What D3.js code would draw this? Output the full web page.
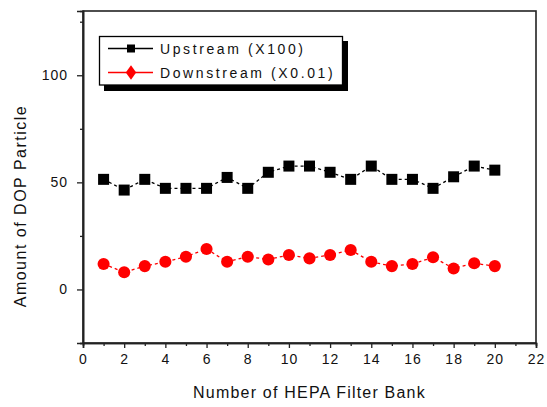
<!DOCTYPE html>
<html><head><meta charset="utf-8">
<script src="https://cdn.jsdelivr.net/npm/d3@7"></script>
<style>
body{margin:0;background:#fff;}
svg{display:block;font-family:"Liberation Sans",Arial,sans-serif;}
</style></head>
<body><svg id="c" width="547" height="407"></svg>
<script>
const banks = [1,2,3,4,5,6,7,8,9,10,11,12,13,14,15,16,17,18,19,20];
const upstream = [51.4,46.4,51.4,47.2,47.2,47.2,52.3,47.2,54.7,57.6,57.6,54.7,51.4,57.6,51.4,51.4,47.2,52.6,57.6,55.7];
const downstream = [11.9,8.0,10.9,12.9,15.3,18.9,12.9,15.3,14.0,16.1,14.5,16.1,18.4,12.9,10.9,11.9,15.0,9.8,12.2,10.9];
const xMajorTicks = [0,2,4,6,8,10,12,14,16,18,20,22];
const xMinorTicks = [1,3,5,7,9,11,13,15,17,19,21];
const yMajorTicks = [0,50,100];
const yMinorTicks = [-25,25,75,125];
const seriesNames = ["Upstream (X100)","Downstream (X0.01)"];

const svg = d3.select("#c");
const L=83, R=536, T=11, B=343;
const x = d3.scaleLinear().domain([0,22]).range([L,R]);
const y = d3.scaleLinear().domain([-25,130]).range([B,T]);

// frame
svg.append("rect").attr("x",L).attr("y",T).attr("width",R-L).attr("height",B-T)
  .attr("fill","none").attr("stroke","#222").attr("stroke-width",1.6);

// x axis
const gx = svg.append("g").attr("transform",`translate(0,${B})`);
gx.call(d3.axisBottom(x).tickValues(xMajorTicks).tickSize(5).tickFormat(d3.format("d")));
gx.append("g").call(d3.axisBottom(x).tickValues(xMinorTicks).tickSize(3).tickFormat(""));
gx.selectAll(".domain").attr("stroke","#222").attr("stroke-width",1.6);
gx.selectAll(".tick line").attr("stroke","#222").attr("stroke-width",1.3);
gx.selectAll("text").attr("font-size",14).attr("fill","#111").attr("dy","0.95em")
  .attr("font-family","Liberation Sans, Arial, sans-serif").style("letter-spacing","1px");

// y axis
const gy = svg.append("g").attr("transform",`translate(${L},0)`);
gy.call(d3.axisLeft(y).tickValues(yMajorTicks).tickSize(6).tickFormat(d3.format("d")));
gy.append("g").call(d3.axisLeft(y).tickValues(yMinorTicks).tickSize(3).tickFormat(""));
gy.selectAll(".domain").attr("stroke","#222").attr("stroke-width",1.6);
gy.selectAll(".tick line").attr("stroke","#222").attr("stroke-width",1.3);
gy.selectAll("text").attr("font-size",14).attr("fill","#111").attr("x",-15)
  .attr("font-family","Liberation Sans, Arial, sans-serif").style("letter-spacing","1px");

// axis titles
svg.append("text").attr("x",(L+R)/2).attr("y",398).attr("text-anchor","middle")
  .attr("font-size",16).attr("fill","#111").style("letter-spacing","1.2px")
  .text("Number of HEPA Filter Bank");
svg.append("text").attr("transform","translate(26,206) rotate(-90)").attr("text-anchor","middle")
  .attr("font-size",16).attr("fill","#111").style("letter-spacing","1.5px")
  .text("Amount of DOP Particle");

// lines
const line = (vals)=>d3.line().x((d,i)=>x(banks[i])).y(d=>y(d))(vals);
svg.append("path").attr("d",line(upstream)).attr("fill","none").attr("stroke","#000")
  .attr("stroke-width",1.3).attr("stroke-dasharray","3,3");
svg.append("path").attr("d",line(downstream)).attr("fill","none").attr("stroke","#f00")
  .attr("stroke-width",1.3).attr("stroke-dasharray","3,3");

// markers
const sq = 11;
svg.append("g").selectAll("rect").data(upstream).join("rect")
  .attr("x",(d,i)=>x(banks[i])-sq/2).attr("y",d=>y(d)-sq/2)
  .attr("width",sq).attr("height",sq).attr("fill","#000");
const dm = d3.symbol().type(d3.symbolCircle).size(115);
svg.append("g").selectAll("path").data(downstream).join("path")
  .attr("transform",(d,i)=>`translate(${x(banks[i])},${y(d)})`)
  .attr("d",dm).attr("fill","#f00");

// legend
const lg = svg.append("g");
lg.append("rect").attr("x",104).attr("y",41).attr("width",244).attr("height",50).attr("fill","#000");
lg.append("rect").attr("x",99.5).attr("y",36.5).attr("width",243).attr("height",48.5)
  .attr("fill","#fff").attr("stroke","#000").attr("stroke-width",1.3);
const rows = [{y:48.5,c:"#000",t:seriesNames[0],m:"sq"},{y:72.5,c:"#f00",t:seriesNames[1],m:"dm"}];
rows.forEach(r=>{
  lg.append("line").attr("x1",108).attr("x2",153).attr("y1",r.y).attr("y2",r.y)
    .attr("stroke",r.c).attr("stroke-width",1.3);
  if(r.m==="sq"){
    lg.append("rect").attr("x",127).attr("y",r.y-4).attr("width",8).attr("height",8).attr("fill",r.c);
  } else {
    lg.append("path").attr("transform",`translate(131,${r.y}) scale(1.25,1)`)
      .attr("d",d3.symbol().type(d3.symbolDiamond).size(60)).attr("fill",r.c);
  }
  lg.append("text").attr("x",160).attr("y",r.y).attr("dy","0.36em").attr("font-size",14)
    .attr("fill","#111").style("letter-spacing","2.6px").text(r.t);
});
</script></body></html>
